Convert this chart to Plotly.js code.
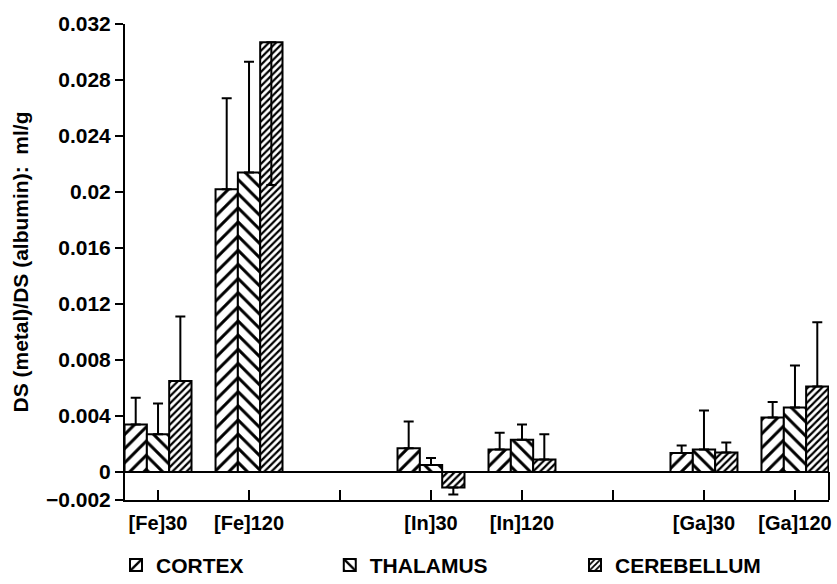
<!DOCTYPE html>
<html>
<head>
<meta charset="utf-8">
<script src="https://cdn.plot.ly/plotly-3.0.1.min.js"></script>
<style>html,body{margin:0;padding:0;background:#fff;}#chart{width:837px;height:584px;}</style>
</head>
<body>
<div id="chart"></div>
<script>
// Axis positions (blank slots are the gaps between metals)
const tickLabels = ['[Fe]30', '[Fe]120', '', '[In]30', '[In]120', '', '[Ga]30', '[Ga]120'];
const groups = ['[Fe]30', '[Fe]120', '[In]30', '[In]120', '[Ga]30', '[Ga]120'];

const cortex = [0.0034, 0.0202, 0.0017, 0.0016, 0.00135, 0.0039];
const cortexErrUp = [0.0019, 0.0065, 0.0019, 0.0012, 0.00055, 0.0011];
const cortexErrDown = [0, 0, 0, 0, 0, 0];

const thalamus = [0.0027, 0.0214, 0.0005, 0.0023, 0.0016, 0.0046];
const thalamusErrUp = [0.0022, 0.0079, 0.0005, 0.0011, 0.0028, 0.003];
const thalamusErrDown = [0, 0, 0, 0, 0, 0];

const cerebellum = [0.0065, 0.0307, -0.0011, 0.0009, 0.0014, 0.0061];
const cerebellumErrUp = [0.0046, 0, 0, 0.0018, 0.0007, 0.0046];
const cerebellumErrDown = [0, 0.0102, 0.0005, 0, 0, 0];

const yTickVals = [-0.002, 0, 0.004, 0.008, 0.012, 0.016, 0.02, 0.024, 0.028, 0.032];
const yTickText = ['\u22120.002', '0', '0.004', '0.008', '0.012', '0.016', '0.02', '0.024', '0.028', '0.032'];

const FONT = 'Liberation Sans, Arial, sans-serif';
const xPos = groups.map(g => tickLabels.indexOf(g));

function errY(up, down) {
  return {type: 'data', symmetric: false, array: up, arrayminus: down,
          color: '#000', thickness: 2, width: 5};
}
function mk(name, y, up, down, shape, size, solidity, legendId) {
  return {
    type: 'bar', name: name, x: xPos, y: y,
    legend: legendId,
    marker: {color: '#fff', line: {color: '#000', width: 2},
             pattern: {shape: shape, size: size, solidity: solidity, fgcolor: '#000', bgcolor: '#fff', fillmode: 'replace'}},
    error_y: errY(up, down),
    hoverinfo: 'none'
  };
}

const traces = [
  mk('CORTEX', cortex, cortexErrUp, cortexErrDown, '/', 10, 0.3, 'legend'),
  mk('THALAMUS', thalamus, thalamusErrUp, thalamusErrDown, '\\', 10, 0.3, 'legend2'),
  mk('CEREBELLUM', cerebellum, cerebellumErrUp, cerebellumErrDown, '/', 5, 0.45, 'legend3')
];

const legFont = {family: FONT, size: 21, color: '#000', weight: 'bold'};
function leg(x) {
  return {x: x, y: 0.032, xref: 'container', yref: 'container', xanchor: 'left', yanchor: 'middle',
          orientation: 'h', font: legFont, bgcolor: 'rgba(0,0,0,0)'};
}
const layout = {
  width: 837, height: 584,
  margin: {l: 125, r: 8, t: 24, b: 84},
  paper_bgcolor: '#fff', plot_bgcolor: '#fff',
  font: {family: FONT, color: '#000', size: 20, weight: 'bold'},
  barmode: 'group', bargap: 0.264, bargroupgap: 0,
  showlegend: true,
  legend: leg(0.1386),
  legend2: leg(0.394),
  legend3: leg(0.687),
  xaxis: {
    range: [-0.363, 7.374], tickmode: 'array', tickvals: tickLabels.map((_, i) => i), ticktext: tickLabels,
    showline: true, linecolor: '#000', linewidth: 2, ticks: 'inside', ticklen: 10, tickwidth: 2, tickcolor: '#000',
    showgrid: false, zeroline: false, fixedrange: true, ticklabelstandoff: 4,
    tickfont: {family: FONT, size: 20, color: '#000', weight: 'bold'}
  },
  yaxis: {
    range: [-0.002, 0.032], tickmode: 'array', tickvals: yTickVals, ticktext: yTickText,
    showline: true, linecolor: '#000', linewidth: 2, ticks: 'outside', ticklen: 8, tickwidth: 2, tickcolor: '#000',
    showgrid: false, zeroline: true, zerolinecolor: '#000', zerolinewidth: 2, fixedrange: true,
    tickfont: {family: FONT, size: 21, color: '#000', weight: 'bold'},
    title: {text: 'DS (metal)/DS (albumin):  ml/g', font: {family: FONT, size: 21, color: '#000', weight: 'bold'}, standoff: 12}
  },
  shapes: [
    {type: 'line', xref: 'paper', yref: 'y', x0: 1, x1: 1, y0: -0.002, y1: 0, line: {color: '#000', width: 2}}
  ]
};

Plotly.newPlot('chart', traces, layout, {staticPlot: true, displayModeBar: false});
</script>
</body>
</html>
